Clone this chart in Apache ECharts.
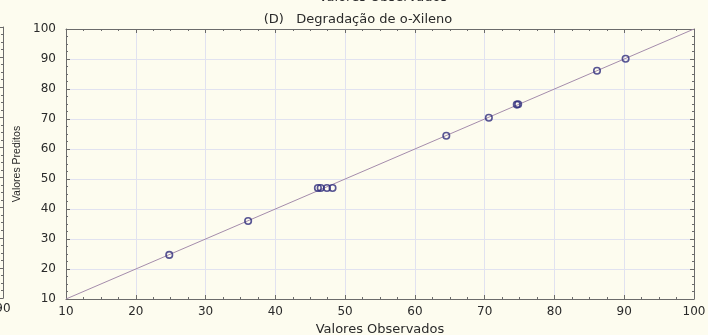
<!DOCTYPE html>
<html>
<head>
<meta charset="utf-8">
<script src="https://cdn.jsdelivr.net/npm/echarts@6/dist/echarts.min.js"></script>
<style>
  html, body { margin: 0; padding: 0; background: #fdfcef; }
  #chart { width: 708px; height: 335px; }
</style>
</head>
<body>
<div id="chart"></div>
<script>
// Observed vs. predicted values for o-xylene degradation
const observed  = [24.8, 36.1, 46.1, 46.5, 47.4, 48.2, 64.5, 70.6, 74.6, 74.8, 86.1, 90.2];
const predicted = [24.7, 36.0, 47.0, 47.0, 47.0, 47.0, 64.4, 70.4, 74.8, 74.9, 86.1, 90.1];
// Ideal fit line (predicted = observed)
const fitX = [10, 100];
const fitY = [10, 100];
const axisMin = 10, axisMax = 100, axisStep = 10;

const FONT = '"DejaVu Sans", "Liberation Sans", Arial, sans-serif';
const FONT_NARROW = '"Liberation Sans", Arial, sans-serif';
const frameColor = '#6b6b6b';
const gridColor = '#e1e2f0';
const textColor = '#2a2a2a';

const points = observed.map((x, i) => [x, predicted[i]]);
const fitLine = fitX.map((x, i) => [x, fitY[i]]);

const tickInside = { show: true, inside: true, length: 4, lineStyle: { color: frameColor } };
const minorInside = { show: true, splitNumber: 4, length: 2, lineStyle: { color: frameColor } };

function valueAxis(extra) {
  return Object.assign({
    type: 'value', min: axisMin, max: axisMax, interval: axisStep,
    axisLine: { show: true, onZero: false, lineStyle: { color: frameColor, width: 1 } },
    axisTick: tickInside, minorTick: minorInside,
    splitLine: { show: false },
    axisLabel: { show: false }
  }, extra);
}

const labelStyle = {
  show: true, fontFamily: FONT, fontSize: 12, color: textColor,
  showMinLabel: true, showMaxLabel: true, hideOverlap: false
};

const chart = echarts.init(document.getElementById('chart'), null, { renderer: 'canvas' });
chart.setOption({
  backgroundColor: '#fdfcef',
  animation: false,
  title: {
    text: '(D)   Degradação de o-Xileno',
    left: 353, top: 8, textAlign: 'center',
    textStyle: { fontFamily: FONT, fontSize: 13, fontWeight: 'normal', color: textColor }
  },
  graphic: [{
    type: 'text', silent: true,
    style: { x: 383, y: -9, text: 'Valores Observados', font: '13px ' + FONT,
             fill: textColor, align: 'center', verticalAlign: 'top' }
  }],
  grid: [
    { left: 66, right: 14, top: 29, bottom: 36, outerBoundsMode: 'none', containLabel: false },
    { left: -400, width: 403, top: 27, bottom: 37, outerBoundsMode: 'none', containLabel: false }
  ],
  xAxis: [
    valueAxis({
      gridIndex: 0, position: 'bottom',
      name: 'Valores Observados', nameLocation: 'middle', nameGap: 22,
      nameTextStyle: { fontFamily: FONT, fontSize: 13, color: textColor },
      axisLabel: Object.assign({ margin: 7 }, labelStyle),
      splitLine: { show: true, lineStyle: { color: gridColor, width: 1 } }
    }),
    valueAxis({ gridIndex: 0, position: 'top' }),
    valueAxis({
      gridIndex: 1, position: 'bottom', min: 10, max: 90,
      axisLabel: Object.assign({ margin: 5 }, labelStyle)
    })
  ],
  yAxis: [
    valueAxis({
      gridIndex: 0, position: 'left',
      name: 'Valores Preditos', nameLocation: 'middle', nameGap: 43,
      nameTextStyle: { fontFamily: FONT_NARROW, fontSize: 10.5, color: textColor },
      axisLabel: Object.assign({ margin: 10 }, labelStyle),
      splitLine: { show: true, lineStyle: { color: gridColor, width: 1 } }
    }),
    valueAxis({ gridIndex: 0, position: 'right' }),
    valueAxis({ gridIndex: 1, position: 'right' })
  ],
  series: [
    {
      type: 'line', xAxisIndex: 0, yAxisIndex: 0,
      data: fitLine, showSymbol: false, silent: true,
      lineStyle: { color: '#a48cab', width: 1 }, z: 2
    },
    {
      type: 'scatter', xAxisIndex: 0, yAxisIndex: 0,
      data: points, symbol: 'circle', symbolSize: 6.5,
      itemStyle: { color: 'rgba(255,255,255,0)', borderColor: '#2e2c7c', borderWidth: 1.6 }, z: 3
    }
  ]
});
</script>
</body>
</html>
